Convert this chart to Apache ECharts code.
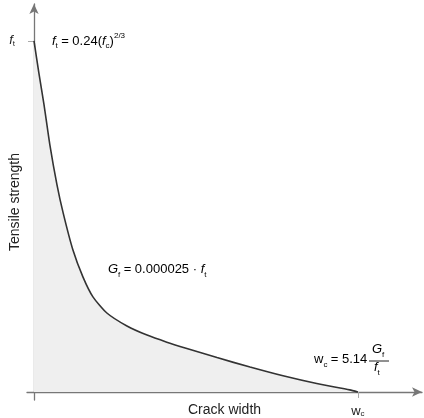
<!DOCTYPE html>
<html>
<head>
	<meta charset="utf-8" />
	<title>Tensile softening</title>
	<script src="https://cdn.jsdelivr.net/npm/echarts@6/dist/echarts.min.js"></script>
	<style>
		html, body { margin: 0; padding: 0; background: #fff; }
		#chart { width: 424px; height: 418px; }
	</style>
</head>
<body>
	<div id="chart"></div>
	<script type="text/javascript">
		// crack width, normalised so that w_c = 1
		const crackWidth = [0, 0.015, 0.031, 0.049, 0.071, 0.090, 0.120, 0.151, 0.182, 0.225,
			0.287, 0.349, 0.410, 0.472, 0.565, 0.667, 0.769, 0.873, 0.975, 1.0];
		// tensile stress, normalised so that f_t = 1
		const tensile = [1.0, 0.909, 0.818, 0.704, 0.590, 0.510, 0.405, 0.328, 0.271, 0.225,
			0.188, 0.162, 0.142, 0.124, 0.098, 0.071, 0.046, 0.024, 0.006, 0];

		const xTicks = [1];
		const yTicks = [1];

		const font = 'Liberation Sans, Arial, sans-serif';
		const ink = '#222';

		const rich = {
			n: { fontSize: 13, color: ink, fontFamily: font, lineHeight: 18 },
			i: { fontSize: 13, color: ink, fontFamily: font, fontStyle: 'italic', lineHeight: 18 },
			s: { fontSize: 8, color: ink, fontFamily: font, verticalAlign: 'bottom', lineHeight: 18 },
			p: { fontSize: 8, color: ink, fontFamily: font, verticalAlign: 'top', lineHeight: 18 },
			big: { fontSize: 17, color: ink, fontFamily: font, lineHeight: 20 },
			bs: { fontSize: 10, color: ink, fontFamily: font, verticalAlign: 'bottom', lineHeight: 20 }
		};

		// tighter styles for the axis tick labels
		const tickRich = {
			n: { fontSize: 13, color: ink, fontFamily: font, lineHeight: 14 },
			i: { fontSize: 13, color: ink, fontFamily: font, fontStyle: 'italic', lineHeight: 14 },
			s: { fontSize: 8, color: ink, fontFamily: font, verticalAlign: 'bottom', lineHeight: 14 }
		};

		const chart = echarts.init(document.getElementById('chart'));

		const option = {
			animation: false,
			grid: { left: 27, right: 2, top: 4, bottom: 18, outerBoundsMode: 'none', containLabel: false },
			xAxis: {
				type: 'value',
				min: -0.0216,
				max: 1.198,
				name: 'Crack width',
				nameLocation: 'middle',
				nameGap: 3,
				nameMoveOverlap: false,
				nameTextStyle: { color: ink, fontSize: 14, fontFamily: font },
				axisLine: {
					onZero: true,
					symbol: ['none', 'arrow'],
					symbolSize: [7, 10],
					lineStyle: { color: '#777', width: 1.3 }
				},
				axisTick: { show: true, customValues: xTicks, length: 6, lineStyle: { color: '#aaa' } },
				axisLabel: {
					customValues: xTicks,
					margin: 4,
					formatter: function () { return '{n|w}{s|c}'; },
					rich: tickRich
				},
				splitLine: { show: false }
			},
			yAxis: {
				type: 'value',
				min: -0.0228,
				max: 1.105,
				name: 'Tensile strength',
				nameLocation: 'middle',
				nameGap: 5,
				nameMoveOverlap: false,
				nameTextStyle: { color: ink, fontSize: 14, fontFamily: font },
				axisLine: {
					onZero: true,
					symbol: ['none', 'arrow'],
					symbolSize: [7, 10],
					lineStyle: { color: '#777', width: 1.3 }
				},
				axisTick: { show: true, customValues: yTicks, length: 6, lineStyle: { color: '#aaa' } },
				axisLabel: {
					customValues: yTicks,
					margin: 12,
					formatter: function () { return '{i|f}{s|t}'; },
					rich: tickRich
				},
				splitLine: { show: false }
			},
			series: [{
				type: 'line',
				data: crackWidth.map(function (w, k) { return [w, tensile[k]]; }),
				smooth: 0.2,
				symbol: 'none',
				lineStyle: { color: '#333', width: 1.6 },
				areaStyle: { color: '#efefef', opacity: 1 },
				z: 1
			}],
			graphic: [
				{
					type: 'text', left: 52, top: 32,
					style: { text: '{i|f}{s|t} {n|= 0.24(}{i|f}{s|c}{n|)}{p|2/3}', rich: rich }
				},
				{
					type: 'text', left: 108, top: 263,
					style: { text: '{i|G}{s|f} {n|= 0.000025 · }{i|f}{s|t}', rich: rich }
				},
				{
					type: 'text', left: 67, top: 340,
					style: { text: '{big|G}{bs|f}', rich: rich }
				},
				{
					type: 'text', left: 314, top: 353,
					style: { text: '{n|w}{s|c} {n|= 5.14}', rich: rich }
				},
				{
					type: 'text', left: 372, top: 343,
					style: { text: '{i|G}{s|f}', rich: rich }
				},
				{
					type: 'line',
					shape: { x1: 369, y1: 361, x2: 389, y2: 361 },
					style: { stroke: ink, lineWidth: 1 }
				},
				{
					type: 'text', left: 374, top: 361,
					style: { text: '{i|f}{s|t}', rich: rich }
				}
			]
		};

		chart.setOption(option);
	</script>
</body>
</html>
